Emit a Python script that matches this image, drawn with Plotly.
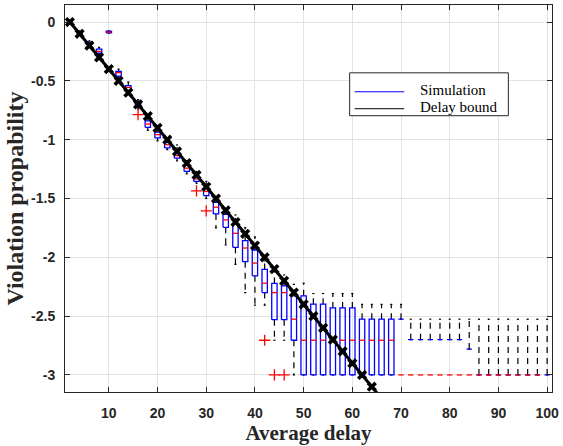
import plotly.graph_objects as go

# Box positions (average delay)
delays = list(range(2, 101, 2))

# Box statistics (log10 violation probability) at each delay
whisk_lo = [-0.02, -0.10, -0.20, -0.28, -0.095, -0.47, -0.59, -0.74, -0.92, -1.01,
            -1.085, -1.18, -1.29, -1.37, -1.50, -1.75, -1.895, -2.06, -2.30, -2.407,
            -2.407, -2.705, -2.705, -3.0, -3.0, -3.0, -3.0, -3.0, -3.0, -3.0,
            -3.0, -3.0, -3.0, -3.0, -2.526, -2.70, -2.70, -2.70, -2.70, -2.70,
            -2.70, -2.78, -3.0, -3.0, -3.0, -3.0, -3.0, -3.0, -3.0, -3.0]
q1 = [-0.01, -0.10, -0.19, -0.265, -0.092, -0.46, -0.58, -0.725, -0.895, -0.985,
      -1.07, -1.157, -1.27, -1.355, -1.475, -1.631, -1.745, -1.915, -2.037, -2.157,
      -2.30, -2.53, -2.53, -2.705, -3.0, -3.0, -3.0, -3.0, -3.0, -3.0,
      -3.0, -3.0, -3.0, -3.0, -2.526, -2.70, -2.70, -2.70, -2.70, -2.70,
      -2.70, -2.78, -3.0, -3.0, -3.0, -3.0, -3.0, -3.0, -3.0, -3.0]
medians = [-0.005, -0.09, -0.18, -0.25, -0.085, -0.43, -0.555, -0.70, -0.867, -0.957,
           -1.043, -1.136, -1.242, -1.333, -1.44, -1.574, -1.682, -1.796, -1.921, -2.049,
           -2.22, -2.30, -2.30, -2.526, -2.705, -2.705, -2.705, -2.705, -2.705, -2.705,
           -2.705, -2.705, -2.705, -2.705, -3.0, -3.0, -3.0, -3.0, -3.0, -3.0,
           -3.0, -3.0, -3.0, -3.0, -3.0, -3.0, -3.0, -3.0, -3.0, None]
q3 = [0.0, -0.08, -0.17, -0.23, -0.078, -0.42, -0.54, -0.675, -0.84, -0.935,
      -1.025, -1.114, -1.213, -1.313, -1.413, -1.532, -1.634, -1.716, -1.858, -1.938,
      -2.103, -2.222, -2.242, -2.327, -2.327, -2.398, -2.398, -2.43, -2.43, -2.43,
      -2.526, -2.526, -2.526, -2.526, -2.526, -2.70, -2.70, -2.70, -2.70, -2.70,
      -2.70, -2.78, -3.0, -3.0, -3.0, -3.0, -3.0, -3.0, -3.0, -3.0]
whisk_hi = [0.01, -0.075, -0.16, -0.215, -0.075, -0.40, -0.51, -0.66, -0.815, -0.91,
            -1.00, -1.045, -1.18, -1.27, -1.355, -1.483, -1.589, -1.64, -1.748, -1.827,
            -2.03, -2.10, -2.15, -2.23, -2.22, -2.308, -2.308, -2.308, -2.308, -2.308,
            -2.40, -2.40, -2.40, -2.40, -2.40, -2.526, -2.526, -2.526, -2.526, -2.526,
            -2.526, -2.526, -2.526, -2.526, -2.526, -2.526, -2.526, -2.526, -2.526, -2.526]

# Outlying simulation samples
outlier_x = [16, 28, 30, 42, 44, 46]
outlier_y = [-0.787, -1.435, -1.605, -2.705, -3.0, -3.0]

# Analytical delay bound
bound_x = [2, 4, 6, 8, 10, 12, 14, 16, 18, 20, 22, 24, 26, 28, 30, 32, 34,
           36, 38, 40, 42, 44, 46, 48, 50, 52, 54, 56, 58, 60, 62, 64, 66]
bound_y = [0.0, -0.1, -0.2, -0.3, -0.4, -0.5, -0.6, -0.7, -0.8, -0.9, -1.0,
           -1.1, -1.2, -1.3, -1.4, -1.5, -1.6, -1.7, -1.8, -1.9, -2.0, -2.1,
           -2.2, -2.3, -2.4, -2.5, -2.6, -2.7, -2.8, -2.9, -3.0, -3.1, -3.2]

x_ticks = [10, 20, 30, 40, 50, 60, 70, 80, 90, 100]
y_ticks = [0, -0.5, -1, -1.5, -2, -2.5, -3]
y_ticktext = ["0", "-0.5", "-1", "-1.5", "-2", "-2.5", "-3"]

legend_names = ["Simulation", "Delay bound"]
legend_colors = ["#0000ff", "#000000"]

HALF_BOX = 0.55
HALF_CAP = 0.22

box_x, box_y = [], []
med_x, med_y = [], []
wh_x, wh_y = [], []
cap_x, cap_y = [], []
for x, lo, a, m, b, hi in zip(delays, whisk_lo, q1, medians, q3, whisk_hi):
    box_x += [x - HALF_BOX, x + HALF_BOX, x + HALF_BOX, x - HALF_BOX, x - HALF_BOX, None]
    box_y += [a, a, b, b, a, None]
    if m is not None:
        med_x += [x - HALF_BOX, x + HALF_BOX, None]
        med_y += [m, m, None]
    if hi > b:
        wh_x += [x, x, None]
        wh_y += [b, hi, None]
    if lo < a:
        wh_x += [x, x, None]
        wh_y += [a, lo, None]
    cap_x += [x - HALF_CAP, x + HALF_CAP, None, x - HALF_CAP, x + HALF_CAP, None]
    cap_y += [hi, hi, None, lo, lo, None]

fig = go.Figure()

fig.add_trace(go.Scatter(x=wh_x, y=wh_y, mode="lines", showlegend=False, hoverinfo="skip",
                         line=dict(color="#000000", width=1.2, dash="6px,5px")))
fig.add_trace(go.Scatter(x=cap_x, y=cap_y, mode="lines", showlegend=False, hoverinfo="skip",
                         line=dict(color="#000000", width=1.2)))
fig.add_trace(go.Scatter(x=box_x, y=box_y, mode="lines", showlegend=False, hoverinfo="skip",
                         line=dict(color="#0000ff", width=1.3)))
fig.add_trace(go.Scatter(x=med_x, y=med_y, mode="lines", showlegend=False, hoverinfo="skip",
                         line=dict(color="#ff0000", width=1.3)))
fig.add_trace(go.Scatter(x=bound_x, y=bound_y, mode="lines+markers", showlegend=False,
                         line=dict(color="#000000", width=3),
                         marker=dict(symbol="x", size=9, color="#000000")))
fig.add_trace(go.Scatter(x=outlier_x, y=outlier_y, mode="markers", showlegend=False,
                         marker=dict(symbol="cross-thin", size=8,
                                     line=dict(color="#ff0000", width=1.3))))

# Legend box drawn in the upper right of the axes (paper coordinates)
PLOT_L, PLOT_W, PLOT_T, PLOT_H = 65, 491, 4, 388


def px_x(px):
    return (px - PLOT_L) / PLOT_W


def px_y(py):
    return 1 - (py - PLOT_T) / PLOT_H


shapes = [dict(type="rect", xref="paper", yref="paper",
               x0=px_x(352), x1=px_x(512), y0=px_y(115), y1=px_y(72),
               line=dict(color="#262626", width=1), fillcolor="white", layer="above")]
annotations = []
for i, (name, col) in enumerate(zip(legend_names, legend_colors)):
    row_y = 91 + 17 * i
    shapes.append(dict(type="line", xref="paper", yref="paper",
                       x0=px_x(357), x1=px_x(407), y0=px_y(row_y), y1=px_y(row_y),
                       line=dict(color=col, width=1), layer="above"))
    annotations.append(dict(text=name, xref="paper", yref="paper",
                            x=px_x(421), y=px_y(row_y - 2), xanchor="left", yanchor="middle",
                            showarrow=False,
                            font=dict(family="Liberation Serif", size=15, color="#000000")))

axis_common = dict(
    showgrid=True, gridcolor="#e3e3e3", gridwidth=1,
    ticks="inside", ticklen=5, tickwidth=1, tickcolor="#262626",
    showline=True, linecolor="#262626", linewidth=1, mirror="ticks",
    zeroline=False,
    tickfont=dict(family="Liberation Sans", size=14, color="#262626", weight="bold"),
)

fig.update_layout(
    width=563, height=446,
    margin=dict(l=65, r=7, t=4, b=54),
    paper_bgcolor="white", plot_bgcolor="white",
    showlegend=False,
    shapes=shapes,
    annotations=annotations,
    xaxis=dict(range=[1, 101], tickvals=x_ticks, ticklabelstandoff=8,
               title=dict(text="Average delay", standoff=2,
                          font=dict(family="Liberation Serif", size=21, color="#262626", weight="bold")),
               **axis_common),
    yaxis=dict(range=[-3.145, 0.145], tickvals=y_ticks, ticktext=y_ticktext, ticklabelstandoff=6,
               title=dict(text="Violation propability", standoff=0,
                          font=dict(family="Liberation Serif", size=24, color="#262626", weight="bold")),
               **axis_common),
)

fig.write_html("out.html")
